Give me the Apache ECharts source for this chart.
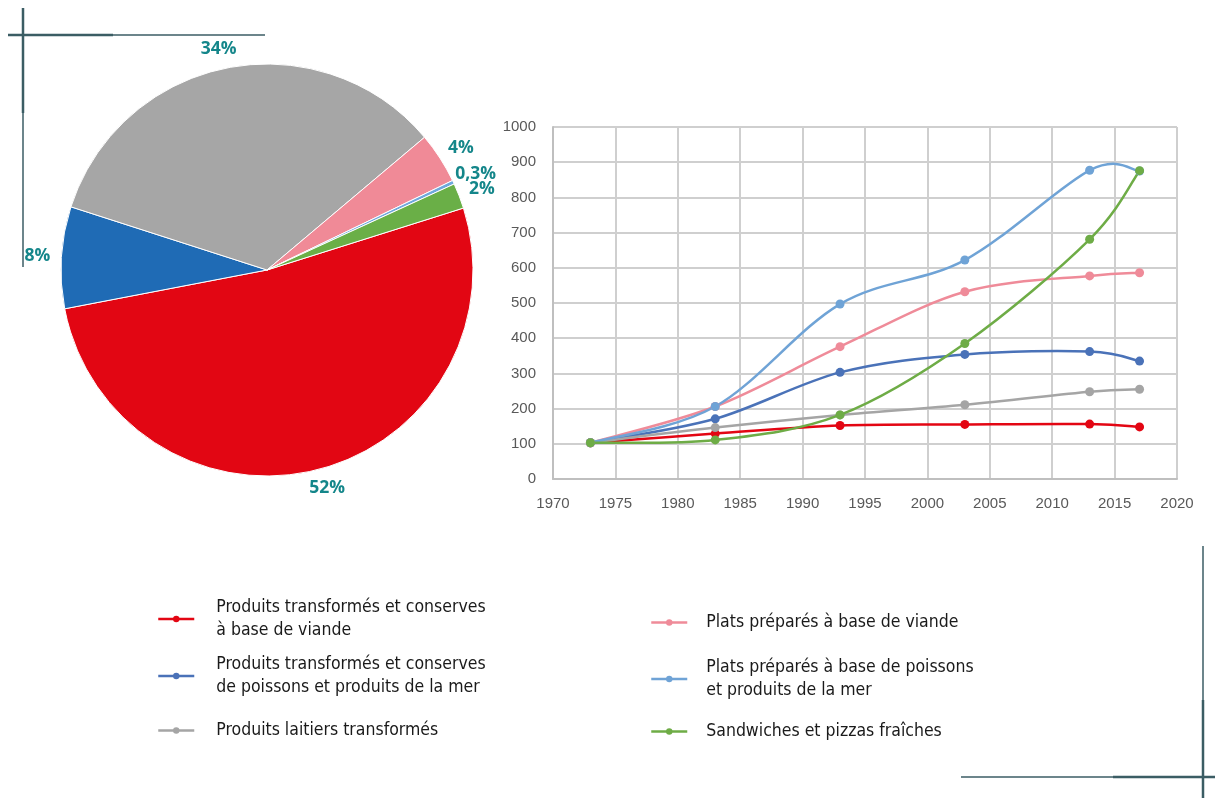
<!DOCTYPE html>
<html>
<head>
<meta charset="utf-8">
<script src="https://cdn.jsdelivr.net/npm/echarts@6/dist/echarts.min.js"></script>
<style>
html,body{margin:0;padding:0;background:#fff;}
#c{width:1215px;height:798px;}
</style>
</head>
<body>
<div id="c"></div>
<script>
// ---- Pie data ----
const pieNames = ['Viande transformée', 'Poissons transformés', 'Laitiers transformés', 'Plats viande', 'Plats poissons', 'Sandwiches pizzas'];
const pieValues = [52, 8, 34, 4, 0.3, 2];
const pieLabels = ['52%', '8%', '34%', '4%', '0,3%', '2%'];

// ---- Line data ----
const years = [1973, 1983, 1993, 2003, 2013, 2017];
const seriesNames = [
  'Produits transformés et conserves à base de viande',
  'Produits transformés et conserves de poissons et produits de la mer',
  'Produits laitiers transformés',
  'Plats préparés à base de viande',
  'Plats préparés à base de poissons et produits de la mer',
  'Sandwiches et pizzas fraîches'
];
const legendTexts = [
  'Produits transformés et conserves\nà base de viande',
  'Produits transformés et conserves\nde poissons et produits de la mer',
  'Produits laitiers transformés',
  'Plats préparés à base de viande',
  'Plats préparés à base de poissons\net produits de la mer',
  'Sandwiches et pizzas fraîches'
];
const viande      = [103, 129, 152, 155, 156, 148];
const poissons    = [103, 171, 303, 354, 362, 335];
const laitiers    = [103, 146, 182, 211, 248, 255];
const platsViande = [103, 206, 376, 532, 577, 586];
const platsPoiss  = [103, 206, 497, 622, 877, 875];
const sandwiches  = [103, 111, 182, 385, 681, 876];
const xTicks = [1970, 1975, 1980, 1985, 1990, 1995, 2000, 2005, 2010, 2015, 2020];
const yTicks = [0, 100, 200, 300, 400, 500, 600, 700, 800, 900, 1000];

const lineValues = [viande, poissons, laitiers, platsViande, platsPoiss, sandwiches];
const lineColors = ['#e30613', '#4a72b8', '#a5a5a5', '#ef8b99', '#6fa3d6', '#6eac46'];
const pieColors = ['#e20613', '#1f6bb5', '#a6a6a6', '#f08a97', '#6fa8dc', '#6aaf47'];

const chart = echarts.init(document.getElementById('c'));

// Smoothed curve (Excel-like Catmull-Rom Bezier) drawn through the axes' scales
function curveSeries(i) {
  const vals = lineValues[i];
  return {
    type: 'custom',
    coordinateSystem: 'cartesian2d',
    silent: true,
    z: 2 + i,
    data: [[years[0], vals[0]]],
    renderItem: function (params, api) {
      const p = years.map((y, j) => api.coord([y, vals[j]]));
      const n = p.length;
      let d = 'M' + p[0][0] + ' ' + p[0][1];
      for (let k = 0; k < n - 1; k++) {
        const p0 = p[Math.max(k - 1, 0)], p1 = p[k], p2 = p[k + 1], p3 = p[Math.min(k + 2, n - 1)];
        const c1x = p1[0] + (p2[0] - p0[0]) / 6, c1y = p1[1] + (p2[1] - p0[1]) / 6;
        const c2x = p2[0] - (p3[0] - p1[0]) / 6, c2y = p2[1] - (p3[1] - p1[1]) / 6;
        d += ' C' + c1x + ' ' + c1y + ' ' + c2x + ' ' + c2y + ' ' + p2[0] + ' ' + p2[1];
      }
      return {
        type: 'path',
        shape: { pathData: d },
        style: { stroke: lineColors[i], lineWidth: 2.5, fill: null, lineCap: 'round', lineJoin: 'round' }
      };
    }
  };
}

const lineSeries = seriesNames.map((n, i) => ({
  name: n,
  type: 'line',
  data: years.map((y, j) => [y, lineValues[i][j]]),
  symbol: 'circle',
  symbolSize: 9,
  color: lineColors[i],
  lineStyle: { width: 2.5, color: lineColors[i], opacity: 0 },
  itemStyle: { color: lineColors[i] },
  emphasis: { disabled: true },
  z: 3 + i
}));
const curves = seriesNames.map((n, i) => curveSeries(i));
const allLines = [];
for (let i = 0; i < seriesNames.length; i++) { allLines.push(curves[i], lineSeries[i]); }

const legendFont = {
  fontFamily: '"DejaVu Sans Condensed", "Liberation Sans Narrow", sans-serif',
  fontSize: 17.5,
  lineHeight: 23,
  color: '#1a1a1a'
};
const legendPos = [
  { left: 157, top: 596, pad: 17 },
  { left: 157, top: 653, pad: 17 },
  { left: 157, top: 719, pad: 17 },
  { left: 650, top: 611, pad: 14 },
  { left: 650, top: 656, pad: 14 },
  { left: 650, top: 720, pad: 14 }
];
const legends = seriesNames.map((n, i) => ({
  data: [n],
  left: legendPos[i].left,
  top: legendPos[i].top,
  orient: 'vertical',
  padding: 0,
  itemWidth: 36,
  itemHeight: 8,
  selectedMode: false,
  lineStyle: { width: 2.5, opacity: 1 },
  formatter: () => legendTexts[i],
  textStyle: Object.assign({ padding: [0, 0, 0, legendPos[i].pad] }, legendFont)
}));

const lineC = '#3b5d64';
function seg(x1, y1, x2, y2, w) {
  return { type: 'line', shape: { x1, y1, x2, y2 }, style: { stroke: lineC, lineWidth: w }, silent: true };
}

const axisFont = { color: '#595959', fontFamily: '"Liberation Sans", Arial, sans-serif', fontSize: 15 };

const option = {
  animation: false,
  backgroundColor: '#fff',
  legend: legends,
  grid: { left: 553, right: 38, top: 127, bottom: 319, containLabel: false },
  xAxis: {
    type: 'value',
    min: xTicks[0], max: xTicks[xTicks.length - 1], interval: 5,
    axisLine: { show: true, lineStyle: { color: '#bfbfbf', width: 2 } },
    axisTick: { show: false },
    splitLine: { show: true, lineStyle: { color: '#cfcfcf', width: 2 } },
    axisLabel: Object.assign({ margin: 17, formatter: v => xTicks.includes(v) ? String(v) : '' }, axisFont)
  },
  yAxis: {
    type: 'value',
    min: yTicks[0], max: yTicks[yTicks.length - 1], interval: 100,
    axisLine: { show: true, lineStyle: { color: '#bfbfbf', width: 2 } },
    axisTick: { show: false },
    splitLine: { show: true, lineStyle: { color: '#cfcfcf', width: 2 } },
    axisLabel: Object.assign({ margin: 17, formatter: v => yTicks.includes(v) ? String(v) : '' }, axisFont)
  },
  series: [
    {
      type: 'pie',
      center: [267, 270],
      radius: 206,
      startAngle: 17.5,
      clockwise: true,
      avoidLabelOverlap: false,
      legendHoverLink: false,
      emphasis: { disabled: true },
      data: pieNames.map((n, i) => ({ name: n, value: pieValues[i], itemStyle: { color: pieColors[i] } })),
      itemStyle: { borderColor: '#ffffff', borderWidth: 1 },
      label: {
        show: true,
        position: 'outside',
        formatter: p => pieLabels[p.dataIndex],
        color: '#14868a',
        fontFamily: '"Open Sans", "DejaVu Sans", sans-serif',
        fontWeight: 'bold',
        fontSize: 17.5
      },
      labelLine: { show: false, length: 19, length2: 0 },
      labelLayout: function () { return { align: 'center', verticalAlign: 'middle' }; }
    }
  ].concat(allLines),
  graphic: [
    seg(8, 35, 265, 35, 1.5),
    seg(8, 35, 113, 35, 2.5),
    seg(23, 8, 23, 267, 1.5),
    seg(23, 8, 23, 113, 2.5),
    seg(1203, 546, 1203, 798, 1.5),
    seg(1203, 700, 1203, 798, 2.5),
    seg(961, 777, 1215, 777, 1.5),
    seg(1113, 777, 1215, 777, 2.5)
  ]
};
chart.setOption(option);
</script>
</body>
</html>
